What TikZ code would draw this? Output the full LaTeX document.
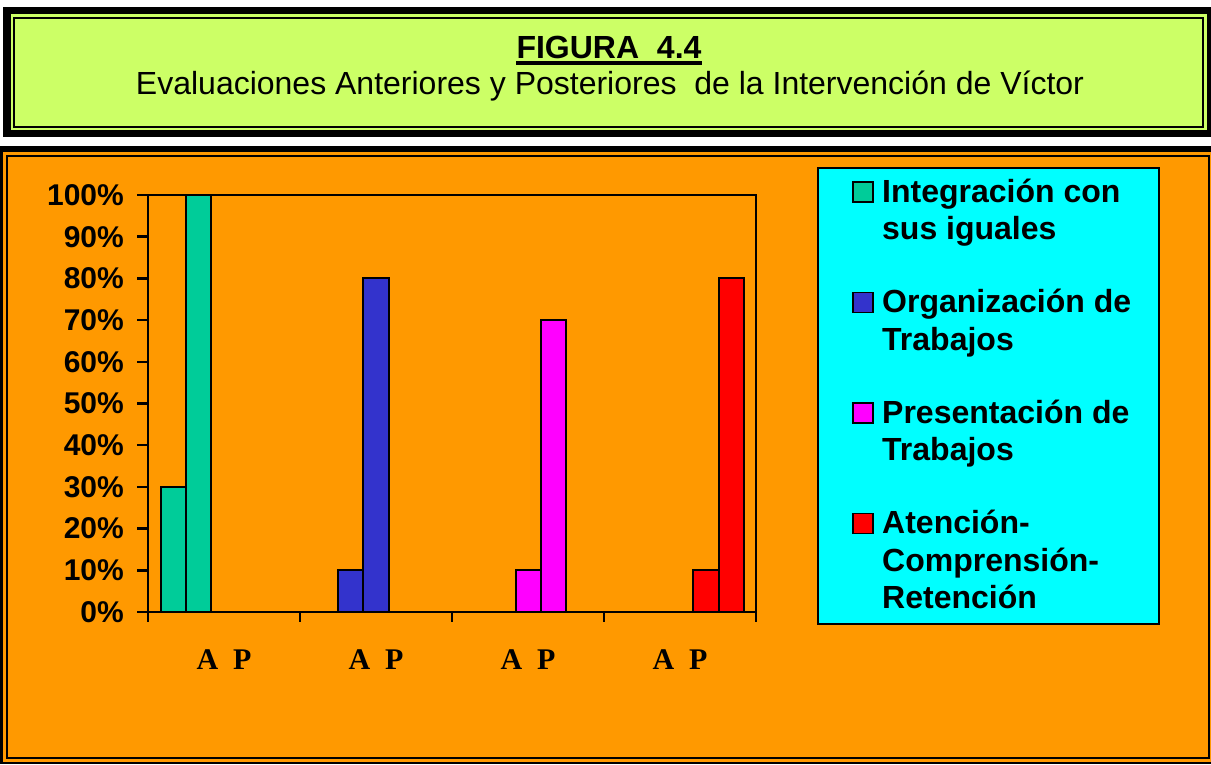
\documentclass[tikz,border=0pt]{standalone}
\usepackage{fontspec}
\setmainfont{Liberation Sans}
\newfontfamily\timesfont{Liberation Serif}
\definecolor{titlegreen}{HTML}{CCFF66}
\definecolor{chartorange}{HTML}{FF9900}
\definecolor{legcyan}{HTML}{00FFFF}
\definecolor{intgreen}{HTML}{00CC99}
\definecolor{orgblue}{HTML}{3333CC}
\definecolor{premagenta}{HTML}{FF00FF}
\definecolor{atred}{HTML}{FF0000}
\tikzset{
  bar/.style={draw,line width=2pt},
  axisline/.style={line width=2.5pt},
  ylab/.style={anchor=east,inner sep=0pt,font=\fontsize{30}{30}\selectfont\bfseries},
  xlab/.style={anchor=base,inner sep=0pt,font=\fontsize{30}{30}\selectfont\timesfont\bfseries},
  legtext/.style={anchor=base west,align=left,inner sep=0pt,font=\fontsize{32}{37.5}\selectfont\bfseries},
  legmark/.style={draw,line width=1.5pt}
}
\begin{document}
\begin{tikzpicture}[x=1pt,y=-1pt]
\useasboundingbox[fill=white] (0,0) rectangle (1211,764);
% title box
\fill (3,7) rectangle (1211,137);
\fill[titlegreen] (11,14) rectangle (1207,130);
\draw[line width=2pt] (14,18) rectangle (1203,127);
\node[anchor=base,inner sep=0pt,font=\fontsize{32}{32}\selectfont\bfseries] (fig) at (609,58) {FIGURA\ \ 4.4};
\draw[line width=3.5pt] ([yshift=-5pt]fig.base west) -- ([yshift=-5pt]fig.base east);
\node[anchor=base,inner sep=0pt,font=\fontsize{32}{32}\selectfont] (sub) at (610,94) {Evaluaciones Anteriores y Posteriores\ \ de la Intervención de Víctor};
% chart frame
\fill (0,146) rectangle (1211,764);
\fill[chartorange] (3,152) rectangle (1211,762);
\draw[line width=2pt] (7,156) rectangle (1209,758);
% plot area
\draw[axisline] (148,195) rectangle (756,612);
\draw[axisline] (137,612) -- (148,612);
\foreach \v in {0,...,10}{
  \pgfmathtruncatemacro\pc{10*\v}
  \draw[axisline] (137,{612-41.7*\v}) -- (148,{612-41.7*\v});
  \node[ylab] (y\v) at (124,{612-41.7*\v}) {\pc\%};
}
\foreach \j in {0,...,4}
  \draw[axisline] ({148+152*\j},612) -- ({148+152*\j},622);
% bars
\foreach \a/\p/\c [count=\i from 0] in {30/100/intgreen,10/80/orgblue,10/70/premagenta,10/80/atred}{
  \pgfmathsetmacro\xa{160.5+177.6*\i}
  \filldraw[bar,fill=\c] (\xa,612) rectangle ({\xa+25.3},{612-4.17*\a});
  \filldraw[bar,fill=\c] ({\xa+25.3},612) rectangle ({\xa+50.6},{612-4.17*\p});
  \node[xlab] (c\i) at ({224+152*\i},669) {A\ \ P};
}
% legend (base = last line)
\draw[fill=legcyan,line width=2pt] (818,168) rectangle (1159,624);
\foreach \c/\n/\t [count=\k from 0] in {intgreen/1/{Integración con\\sus iguales},orgblue/1/{Organización de\\Trabajos},premagenta/1/{Presentación de\\Trabajos},atred/2/{Atención-\\Comprensión-\\Retención}}{
  \filldraw[legmark,fill=\c] (853,{182+110.5*\k}) rectangle +(20,20);
  \node[legtext] (t\k) at (882,{202+110.5*\k+37.5*\n}) {\t};
}
\end{tikzpicture}
\end{document}
